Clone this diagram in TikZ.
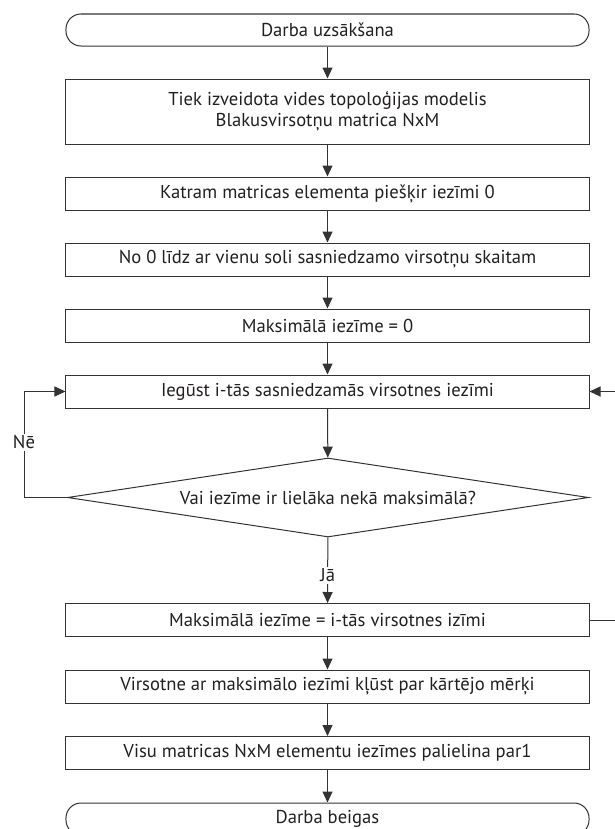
\documentclass[tikz,border=0pt]{standalone}
\usepackage{fontspec}
\setmainfont{PT Sans}
\usetikzlibrary{arrows.meta,shapes.geometric}
\definecolor{ln}{HTML}{333333}
\definecolor{tx}{HTML}{231F20}
\tikzset{
  base/.style={draw=ln, line width=1bp, text=tx, inner sep=0pt, minimum width=523bp,
    font=\fontsize{18.7}{21}\selectfont},
  stepbox/.style={base, rectangle, minimum height=33bp},
  term/.style={base, rectangle, rounded corners=15bp, minimum height=32bp},
  decision/.style={base, diamond, shape aspect=6.6, minimum width=521bp, minimum height=79bp},
  arr/.style={draw=ln, line width=1bp, -{Triangle[length=11bp,width=10bp]}},
  lbl/.style={fill=white, text=tx, inner sep=1.5bp, font=\fontsize{18.7}{21}\selectfont}
}
\begin{document}
\begin{tikzpicture}[x=1bp,y=-1bp]
\useasboundingbox (0,0) rectangle (615,829);
\clip (0,0) rectangle (615,829);
\node[term] (start) at (327.5,30) {Darba uzsākšana};
\node[stepbox, minimum height=65bp, align=center] (b1) at (327.5,111.5)
  {Tiek izveidota vides topoloģijas modelis\\Blakusvirsotņu matrica NxM};
\node[stepbox] (b2) at (327.5,193.5) {Katram matricas elementa piešķir iezīmi 0};
\node[stepbox] (b3) at (327.5,259.5) {No 0 līdz ar vienu soli sasniedzamo virsotņu skaitam};
\node[stepbox] (b4) at (327.5,325.5) {Maksimālā iezīme = 0};
\node[stepbox] (b5) at (327.5,391.5) {Iegūst i-tās sasniedzamās virsotnes iezīmi};
\node[decision] (dia) at (328,497.5) {Vai iezīme ir lielāka nekā maksimālā?};
\node[stepbox] (b6) at (327.5,620) {Maksimālā iezīme = i-tās virsotnes izīmi};
\node[stepbox] (b7) at (327.5,686.5) {Virsotne ar maksimālo iezīmi kļūst par kārtējo mērķi};
\node[stepbox] (b8) at (327.5,753) {Visu matricas NxM elementu iezīmes palielina par1};
\node[term] (end) at (327.5,819) {Darba beigas};
\coordinate (lc) at (24,0);
\coordinate (rc) at (640,0);
\draw[arr] (start) -- (b1);
\draw[arr] (b1) -- (b2);
\draw[arr] (b2) -- (b3);
\draw[arr] (b3) -- (b4);
\draw[arr] (b4) -- (b5);
\draw[arr] (b5) -- (dia);
\draw[arr] (dia) -- node[lbl, pos=0.58] {Jā} (b6);
\draw[arr] (b6) -- (b7);
\draw[arr] (b7) -- (b8);
\draw[arr] (b8) -- (end);
\draw[arr] (dia.west) -- (dia.west -| lc) -- node[lbl, pos=0.52] {Nē} (b5.west -| lc) -- (b5.west);
\draw[arr] (b6.east) -- (b6.east -| rc) -- (b5.east -| rc) -- (b5.east);
\end{tikzpicture}
\end{document}
